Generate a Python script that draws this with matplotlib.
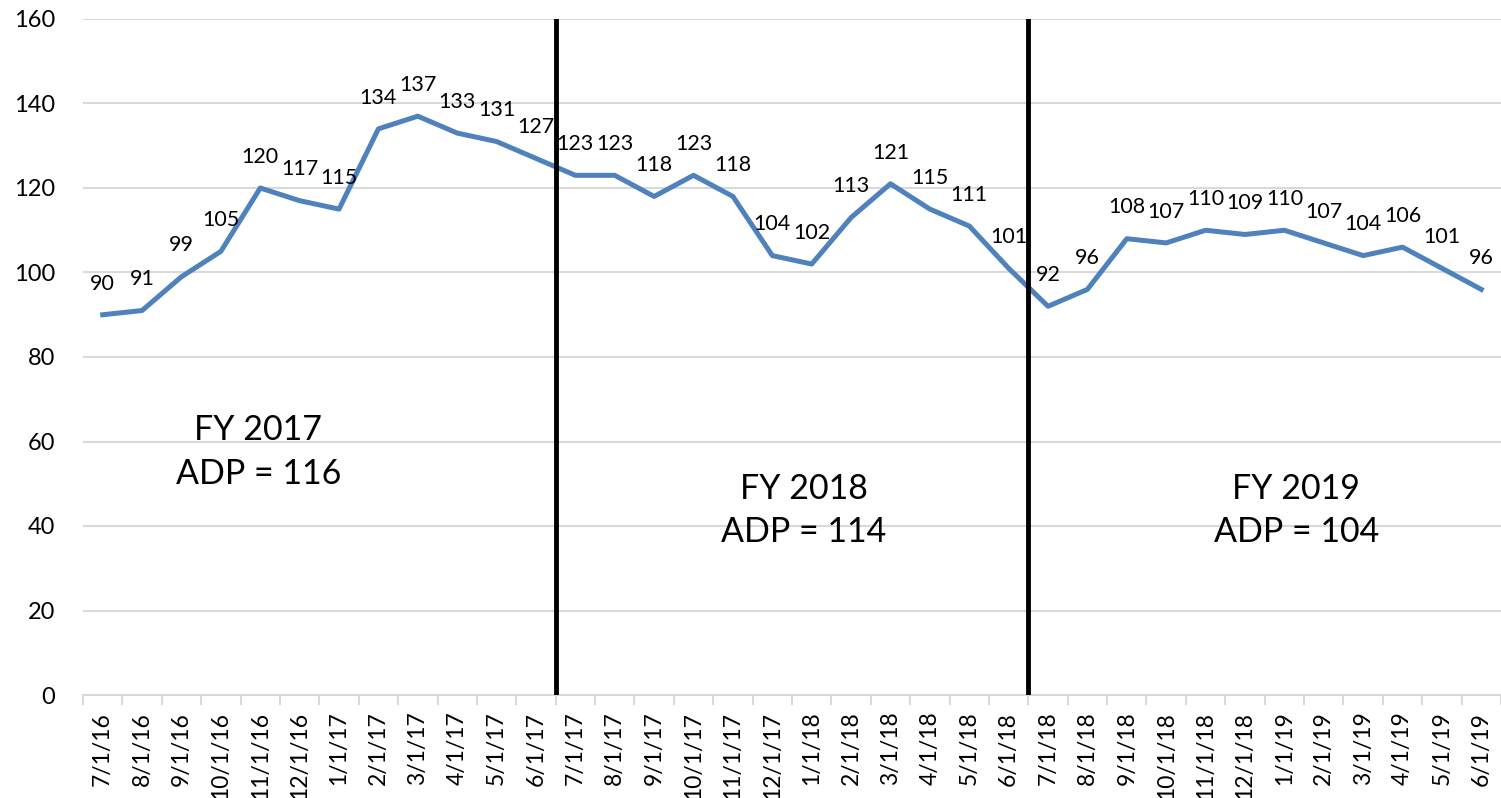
import matplotlib
matplotlib.use("Agg")
import matplotlib.pyplot as plt
import numpy as np

plt.rcParams['font.family'] = ['Lato', 'DejaVu Sans']

dates = ["7/1/16", "8/1/16", "9/1/16", "10/1/16", "11/1/16", "12/1/16",
         "1/1/17", "2/1/17", "3/1/17", "4/1/17", "5/1/17", "6/1/17",
         "7/1/17", "8/1/17", "9/1/17", "10/1/17", "11/1/17", "12/1/17",
         "1/1/18", "2/1/18", "3/1/18", "4/1/18", "5/1/18", "6/1/18",
         "7/1/18", "8/1/18", "9/1/18", "10/1/18", "11/1/18", "12/1/18",
         "1/1/19", "2/1/19", "3/1/19", "4/1/19", "5/1/19", "6/1/19"]
values = [90, 91, 99, 105, 120, 117, 115, 134, 137, 133, 131, 127,
          123, 123, 118, 123, 118, 104, 102, 113, 121, 115, 111, 101,
          92, 96, 108, 107, 110, 109, 110, 107, 104, 106, 101, 96]
fy_labels = ["FY 2017\nADP = 116", "FY 2018\nADP = 114", "FY 2019\nADP = 104"]
fy_pos = [(3.95, 57.5), (17.8, 43.7), (30.3, 43.7)]
fy_dividers = [11.5, 23.5]

fig = plt.figure(figsize=(15.01, 7.98), dpi=100)
ax = fig.add_axes([83/1501, 1 - 695/798, (1501-83)/1501, (695-19)/798])

x = np.arange(len(values))
ax.plot(x, values, color='#4F81BD', lw=3.6, solid_joinstyle='round', zorder=3)
for xi, v in zip(x, values):
    ax.annotate(str(v), (xi, v), xytext=(0, 22.5), textcoords='offset points',
                ha='center', va='center', fontsize=15.5, color='black', zorder=4)

for d in fy_dividers:
    ax.axvline(d, color='black', lw=3.5, zorder=5)

for (tx, ty), t in zip(fy_pos, fy_labels):
    ax.text(tx, ty, t, ha='center', va='center', fontsize=24.5, linespacing=1.45)

ax.set_xlim(-0.5, len(values) - 0.5)
ax.set_ylim(0, 160)
ax.set_yticks(np.arange(0, 161, 20))
ax.grid(axis='y', color='#D9D9D9', lw=1.5, zorder=0)
ax.set_axisbelow(True)

ax.set_xticks(x)
ax.set_xticklabels(dates, rotation=90, fontsize=16.5)
ax.set_xticks(np.arange(-0.5, len(values), 1), minor=True)
ax.tick_params(axis='x', which='major', length=0, pad=12)
ax.tick_params(axis='x', which='minor', length=7, width=1.5, color='#D9D9D9', direction='out')
ax.tick_params(axis='y', length=0, pad=20, labelsize=17)

for s in ['left', 'right', 'top']:
    ax.spines[s].set_visible(False)
ax.spines['bottom'].set_color('#D9D9D9')
ax.spines['bottom'].set_linewidth(1.5)

fig.savefig('out.png', dpi=100)
